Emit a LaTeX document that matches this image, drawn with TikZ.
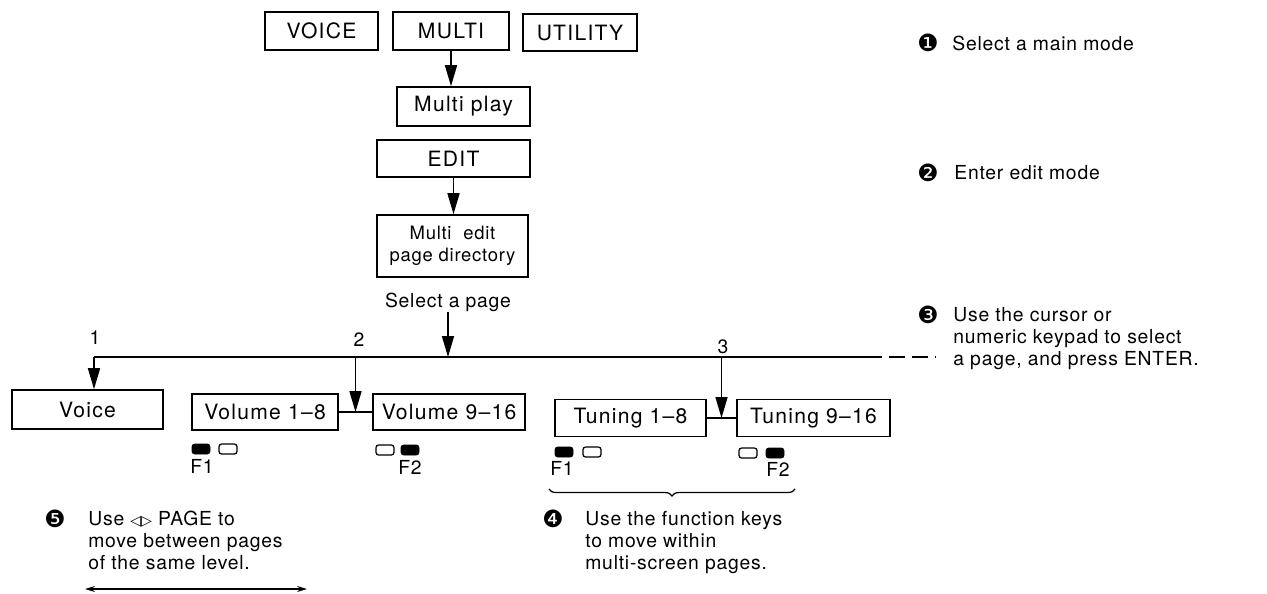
\documentclass[tikz,border=0pt]{standalone}
\usepackage{fontspec}
\setmainfont{TeX Gyre Heros}
\newfontfamily\boxfont{TeX Gyre Heros}[LetterSpace=6]
\newfontfamily\notefont{TeX Gyre Heros}[LetterSpace=4]
\newfontfamily\symfont{DejaVu Sans}
\usetikzlibrary{arrows.meta,calc,decorations.pathreplacing}
\tikzset{
    %Define standard arrow tip
    >={Triangle[length=0.42cm,width=0.24cm]},
    screen/.style={draw,line width=0.9pt,inner sep=0pt,font=\boxfont\fontsize{12}{14}\selectfont},
    note/.style={align=left,inner sep=0pt,font=\notefont\fontsize{11}{12.5}\selectfont},
    keyon/.style={fill=black,rounded corners=1.5pt},
    keyoff/.style={draw,line width=0.7pt,rounded corners=1.5pt},
    wire/.style={line width=0.9pt}
}
\def\nb#1{{\symfont\fontsize{13.5}{14}\selectfont#1}}

\begin{document}
\begin{tikzpicture}[x=0.02cm,y=-0.02cm]
    \useasboundingbox (0,0) rectangle (1267,593);
    % main modes
    \node[screen,minimum width=2.26cm,minimum height=0.76cm] (voice) at (321.5,31) {VOICE};
    \node[screen,minimum width=2.32cm,minimum height=0.76cm] (multi) at (451,31) {MULTI};
    \node[screen,minimum width=2.28cm,minimum height=0.74cm] (utility) at (580,32.5) {UTILITY};
    \node[screen,minimum width=2.66cm,minimum height=0.78cm] (mplay) at (463.5,106.5) {Multi play};
    \node[screen,minimum width=3.06cm,minimum height=0.74cm] (edit) at (453.5,158.5) {EDIT};
    \node[screen,minimum width=3.02cm,minimum height=1.24cm,align=center,font=\notefont\fontsize{10.5}{12.5}\selectfont] (mdir) at (452.5,246) {Multi\ \ edit\\page directory};
    \node[note] (selpage) at (448,302) {Select a page};
    \draw[wire,->] (multi.south) -- (multi.south |- mplay.north);
    \draw[wire,->] (edit.south) -- (edit.south |- mdir.north);
    % page row
    \coordinate (br1) at (94,357);
    \coordinate (brend) at (866,357);
    \coordinate (brdash) at (935,357);
    \draw[wire] (br1) -- (brend);
    \draw[wire,dash pattern=on 9pt off 4pt] (brend) -- (brdash);
    \draw[wire,->] (selpage.south) -- (selpage.south |- br1);
    \node[screen,minimum width=3.02cm,minimum height=0.78cm] (voicepg) at (87.5,409.5) {Voice};
    \node[screen,minimum width=2.92cm,minimum height=0.72cm] (vol1) at (265,412) {Volume 1–8};
    \node[screen,minimum width=3.04cm,minimum height=0.72cm] (vol2) at (449,412) {Volume 9–16};
    \node[screen,minimum width=3.02cm,minimum height=0.74cm] (tun1) at (630.5,418) {Tuning 1–8};
    \node[screen,minimum width=3.06cm,minimum height=0.74cm] (tun2) at (813.5,418) {Tuning 9–16};
    \draw[wire] (vol1.east) -- coordinate (vjoin) (vol2.west);
    \draw[wire] (tun1.east) -- coordinate (tjoin) (tun2.west);
    \draw[wire,->] (br1) -- (br1 |- voicepg.north);
    \draw[wire,->] (vjoin |- br1) -- (vjoin);
    \draw[wire,->] (tjoin |- br1) -- (tjoin);
    \node[note] (lab1) at (95,338) {1};
    \node[note] (lab2) at (359,340) {2};
    \node[note] (lab3) at (723,347) {3};
    % function key lamps
    \foreach \kx/\ky/\ks in {192/444/keyon,219/444/keyoff,376/445/keyoff,401/445/keyon,555/447/keyon,583/447/keyoff,739/448/keyoff,766/448/keyon}
        \draw[\ks] (\kx,\ky) rectangle ++(18,10);
    \node[note] (f1a) at (202,466) {F1};
    \node[note] (f2a) at (410,467) {F2};
    \node[note] (f1b) at (562,468) {F1};
    \node[note] (f2b) at (778,469) {F2};
    \draw[line width=0.7pt,decorate,decoration={brace,mirror,amplitude=4pt}] (549,489) -- (795,489);
    % steps
    \node (n1) at (928,43) {\nb{❶}};
    \node[note,anchor=west] (t1) at (952,43) {Select a main mode};
    \node (n2) at (928,173) {\nb{❷}};
    \node[note,anchor=west] (t2) at (954,173) {Enter edit mode};
    \node (n3) at (928,315) {\nb{❸}};
    \node[note,anchor=north west] (t3) at (953,307) {Use the cursor or\\numeric keypad to select\\a page, and press ENTER.};
    \node (n4) at (553,519) {\nb{❹}};
    \node[note,anchor=north west] (t4) at (585,511) {Use the function keys\\to move within\\multi-screen pages.};
    \node (n5) at (55,519) {\nb{❺}};
    \node[note,anchor=north west] (t5) at (88,511) {Use {\symfont\fontsize{8}{10}\selectfont◁▷} PAGE to\\move between pages\\of the same level.};
    \coordinate (pgl) at (85,589);
    \coordinate (pgr) at (307,589);
    \draw[line width=0.7pt,{Stealth[length=0.2cm,width=0.12cm]}-{Stealth[length=0.2cm,width=0.12cm]}] (pgl) -- (pgr);
\end{tikzpicture}
\end{document}
